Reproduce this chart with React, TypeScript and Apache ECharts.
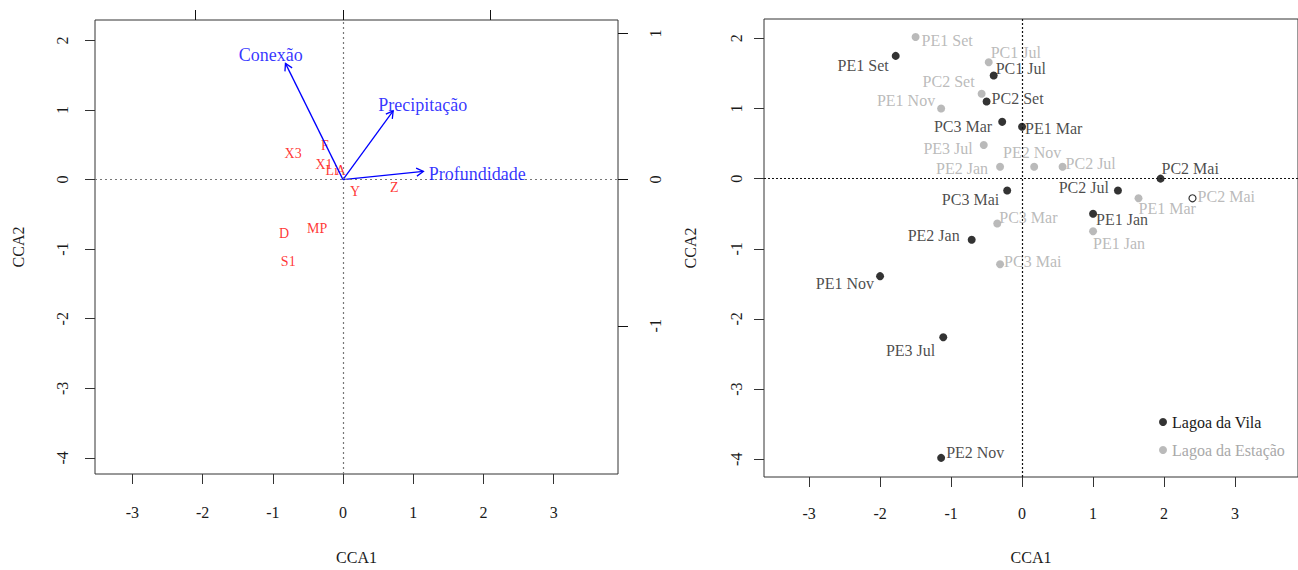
import React, { useEffect, useRef } from "react";
import * as echarts from "echarts";

const FONT = '"Liberation Serif", "Times New Roman", serif';

// ---- Left panel: species scores (CCA1/CCA2, main scale)
const speciesNames = ["X3", "F", "X1", "Li", "A", "Y", "Z", "D", "MP", "S1"];
const speciesX = [-0.71, -0.26, -0.27, -0.16, -0.03, 0.17, 0.73, -0.84, -0.37, -0.78];
const speciesY = [0.38, 0.49, 0.21, 0.13, 0.13, -0.17, -0.11, -0.77, -0.71, -1.18];

// ---- Left panel: environmental vectors (secondary scale)
const envNames = ["Conexão", "Precipitação", "Profundidade"];
const envX = [-0.39, 0.34, 0.545];
const envY = [0.795, 0.47, 0.056];
const envLabelX = [-0.49, 0.54, 0.91];
const envLabelY = [0.85, 0.51, 0.041];

// ---- Right panel: site scores
const vilaNames = ["PE1 Set", "PC1 Jul", "PC2 Set", "PC3 Mar", "PE1 Mar", "PC3 Mai", "PC2 Jul", "PC2 Mai", "PE1 Jan", "PE2 Jan", "PE1 Nov", "PE3 Jul", "PE2 Nov"];
const vilaX = [-1.78, -0.4, -0.5, -0.28, 0.0, -0.21, 1.35, 1.95, 1.0, -0.71, -2.0, -1.11, -1.14];
const vilaY = [1.75, 1.47, 1.1, 0.81, 0.74, -0.17, -0.17, 0.0, -0.5, -0.87, -1.39, -2.26, -3.98];

const estacaoNames = ["PE1 Set", "PC1 Jul", "PC2 Set", "PE1 Nov", "PE3 Jul", "PE2 Jan", "PE2 Nov", "PC2 Jul", "PE1 Mar", "PC2 Mai", "PC3 Mar", "PE1 Jan", "PC3 Mai"];
const estacaoX = [-1.5, -0.47, -0.57, -1.14, -0.54, -0.31, 0.17, 0.57, 1.64, 2.4, -0.35, 1.0, -0.31];
const estacaoY = [2.02, 1.66, 1.21, 1.0, 0.48, 0.17, 0.17, 0.17, -0.28, -0.28, -0.64, -0.75, -1.22];
const estacaoHollow = ["PC2 Mai"];

const xTicks = [-3, -2, -1, 0, 1, 2, 3];
const yTicks = [-4, -3, -2, -1, 0, 1, 2];
const secTicks = [-1, 0, 1];

const SERIES_VILA = "Lagoa da Vila";
const SERIES_ESTACAO = "Lagoa da Estação";

// label placement (style): [position, dx, dy]
const vilaLabelPos: Record<string, [string, number, number]> = {
  "PE1 Set": ["left", -1, 10],
  "PC1 Jul": ["right", -4, -7],
  "PC2 Set": ["right", -1, -3],
  "PC3 Mar": ["left", -4, 5],
  "PE1 Mar": ["right", -3, 2],
  "PC3 Mai": ["left", -2, 9],
  "PC2 Jul": ["left", -3, -3],
  "PC2 Mai": ["right", -5, -10],
  "PE1 Jan": ["right", -3, 6],
  "PE2 Jan": ["left", -6, -4],
  "PE1 Nov": ["left", 0, 7],
  "PE3 Jul": ["left", -2, 13],
  "PE2 Nov": ["right", -1, -5],
};
const estacaoLabelPos: Record<string, [string, number, number]> = {
  "PE1 Set": ["right", 0, 4],
  "PC1 Jul": ["right", -4, -10],
  "PC2 Set": ["left", -1, -12],
  "PE1 Nov": ["left", 0, -8],
  "PE3 Jul": ["left", -5, 4],
  "PE2 Jan": ["left", -6, 2],
  "PE2 Nov": ["top", -2, 0],
  "PC2 Jul": ["right", -3, -3],
  "PE1 Mar": ["right", -6, 10],
  "PC2 Mai": ["right", -1, -2],
  "PC3 Mar": ["right", -4, -6],
  "PE1 Jan": ["right", -6, 12],
  "PC3 Mai": ["right", -2, -3],
};

const BLACK = "#000000";
const GRAY = "#a9a9a9";
const BLUE = "#0000ff";
const RED = "#ff0000";
const AXIS = "#333333";

function tickAxis(extra: any) {
  return {
    type: "value",
    splitLine: { show: false },
    axisLine: { show: false, onZero: false },
    ...extra,
  };
}

export default function App() {
  const ref = useRef<HTMLDivElement>(null);
  useEffect(() => {
    if (!ref.current) return;
    const chart = echarts.init(ref.current, null, { renderer: "svg" });

    const labelText = { fontFamily: FONT, fontSize: 16, color: "#1a1a1a" };

    const vilaData = vilaNames.map((n, i) => {
      const [pos, dx, dy] = vilaLabelPos[n];
      return {
        name: n,
        value: [vilaX[i], vilaY[i]],
        label: { position: pos, offset: [dx, dy] },
      };
    });
    const estacaoData = estacaoNames.map((n, i) => {
      const [pos, dx, dy] = estacaoLabelPos[n];
      const hollow = estacaoHollow.includes(n);
      return {
        name: n,
        value: [estacaoX[i], estacaoY[i]],
        label: { position: pos, offset: [dx, dy] },
        ...(hollow
          ? { itemStyle: { color: "#ffffff", borderColor: "#000", borderWidth: 1.2 }, symbolSize: 7 }
          : {}),
      };
    });

    const option: any = {
      animation: false,
      backgroundColor: "#ffffff",
      textStyle: { fontFamily: FONT },
      grid: [
        { left: 95, top: 20, width: 523, height: 458, show: true, borderColor: AXIS, borderWidth: 1, containLabel: false },
        { left: 764, top: 19, width: 540, height: 459, show: true, borderColor: AXIS, borderWidth: 1, containLabel: false },
      ],
      xAxis: [
        tickAxis({
          gridIndex: 0, position: "bottom", min: -3.533, max: 3.917,
          axisTick: { show: true, inside: false, length: 10, customValues: xTicks, lineStyle: { color: AXIS } },
          axisLabel: { customValues: xTicks, margin: 30, ...labelText },
          name: "CCA1", nameLocation: "middle", nameGap: 75,
          nameTextStyle: { ...labelText },
        }),
        tickAxis({
          gridIndex: 0, position: "top", min: -1.681, max: 1.864,
          axisTick: { show: true, inside: false, length: 10, customValues: secTicks, lineStyle: { color: "#111" } },
          axisLabel: { show: false, customValues: secTicks },
        }),
        tickAxis({
          gridIndex: 1, position: "bottom", min: -3.635, max: 3.886,
          axisTick: { show: true, inside: false, length: 10, customValues: xTicks, lineStyle: { color: AXIS } },
          axisLabel: { customValues: xTicks, margin: 28, ...labelText },
          name: "CCA1", nameLocation: "middle", nameGap: 72,
          nameTextStyle: { ...labelText },
        }),
      ],
      yAxis: [
        tickAxis({
          gridIndex: 0, position: "left", min: -4.231, max: 2.293,
          axisTick: { show: true, inside: false, length: 10, customValues: yTicks, lineStyle: { color: AXIS } },
          axisLabel: { customValues: yTicks, margin: 25, rotate: 90, ...labelText },
          name: "CCA2", nameLocation: "middle", nameGap: 69, nameRotate: 90,
          nameTextStyle: { ...labelText },
        }),
        tickAxis({
          gridIndex: 0, position: "right", min: -2.014, max: 1.092,
          axisTick: { show: true, inside: false, length: 10, customValues: secTicks, lineStyle: { color: "#111" } },
          axisLabel: { customValues: secTicks, margin: 29, rotate: 90, ...labelText },
        }),
        tickAxis({
          gridIndex: 1, position: "left", min: -4.253, max: 2.276,
          axisTick: { show: true, inside: false, length: 10, customValues: yTicks, lineStyle: { color: AXIS } },
          axisLabel: { customValues: yTicks, margin: 20, rotate: 90, ...labelText },
          name: "CCA2", nameLocation: "middle", nameGap: 66, nameRotate: 90,
          nameTextStyle: { ...labelText },
        }),
      ],
      legend: {
        orient: "vertical",
        left: 1159,
        top: 414,
        padding: 0,
        itemWidth: 8,
        itemHeight: 8,
        itemGap: 12,
        textStyle: { fontFamily: FONT, fontSize: 16 },
        data: [
          { name: SERIES_VILA, icon: "circle", textStyle: { color: "#1a1a1a" } },
          { name: SERIES_ESTACAO, icon: "circle", textStyle: { color: GRAY } },
        ],
      },
      series: [
        {
          type: "scatter",
          name: "species",
          xAxisIndex: 0,
          yAxisIndex: 0,
          symbolSize: 0.1,
          itemStyle: { color: "rgba(0,0,0,0)" },
          data: speciesNames.map((n, i) => ({ name: n, value: [speciesX[i], speciesY[i]] })),
          label: {
            show: true, position: "inside", formatter: "{b}",
            fontFamily: FONT, fontSize: 14, color: RED,
          },
          markLine: {
            silent: true, symbol: "none", label: { show: false },
            lineStyle: { type: [2, 3], color: "#777", width: 1.2 },
            data: [{ xAxis: 0 }, { yAxis: 0 }],
          },
          z: 3,
        },
        {
          type: "custom",
          name: "env",
          coordinateSystem: "cartesian2d",
          xAxisIndex: 1,
          yAxisIndex: 1,
          data: envNames.map((n, i) => [envX[i], envY[i]]),
          renderItem: (params: any, api: any) => {
            const o = api.coord([0, 0]);
            const h = api.coord([api.value(0), api.value(1)]);
            const ang = Math.atan2(h[1] - o[1], h[0] - o[0]);
            const L = 8;
            const a = Math.PI / 6;
            const p1 = [h[0] - L * Math.cos(ang - a), h[1] - L * Math.sin(ang - a)];
            const p2 = [h[0] - L * Math.cos(ang + a), h[1] - L * Math.sin(ang + a)];
            return {
              type: "group",
              children: [
                { type: "line", shape: { x1: o[0], y1: o[1], x2: h[0], y2: h[1] }, style: { stroke: BLUE, lineWidth: 1.3 } },
                { type: "polyline", shape: { points: [p1, h, p2] }, style: { stroke: BLUE, fill: "none", lineWidth: 1.3 } },
              ],
            };
          },
          z: 4,
        },
        {
          type: "scatter",
          name: "envLabels",
          xAxisIndex: 1,
          yAxisIndex: 1,
          symbolSize: 0.1,
          itemStyle: { color: "rgba(0,0,0,0)" },
          data: envNames.map((n, i) => ({ name: n, value: [envLabelX[i], envLabelY[i]] })),
          label: {
            show: true, position: "inside", formatter: "{b}",
            fontFamily: FONT, fontSize: 18, color: BLUE,
          },
          z: 5,
        },
        {
          type: "scatter",
          name: SERIES_ESTACAO,
          xAxisIndex: 2,
          yAxisIndex: 2,
          symbol: "circle",
          symbolSize: 8,
          itemStyle: { color: GRAY },
          data: estacaoData,
          label: {
            show: true, formatter: "{b}", distance: 2,
            fontFamily: FONT, fontSize: 16, color: GRAY,
          },
          markLine: {
            silent: true, symbol: "none", label: { show: false },
            lineStyle: { type: [2, 2], color: "#111", width: 1.2 },
            data: [{ xAxis: 0 }, { yAxis: 0 }],
          },
          z: 3,
        },
        {
          type: "scatter",
          name: SERIES_VILA,
          xAxisIndex: 2,
          yAxisIndex: 2,
          symbol: "circle",
          symbolSize: 8,
          itemStyle: { color: BLACK },
          data: vilaData,
          label: {
            show: true, formatter: "{b}", distance: 2,
            fontFamily: FONT, fontSize: 16, color: "#1a1a1a",
          },
          z: 4,
        },
      ],
    };
    chart.setOption(option);
    return () => chart.dispose();
  }, []);

  return (
    <div
      ref={ref}
      style={{ position: "absolute", left: 0, top: 0, width: 1298, height: 570, background: "#fff" }}
    />
  );
}
